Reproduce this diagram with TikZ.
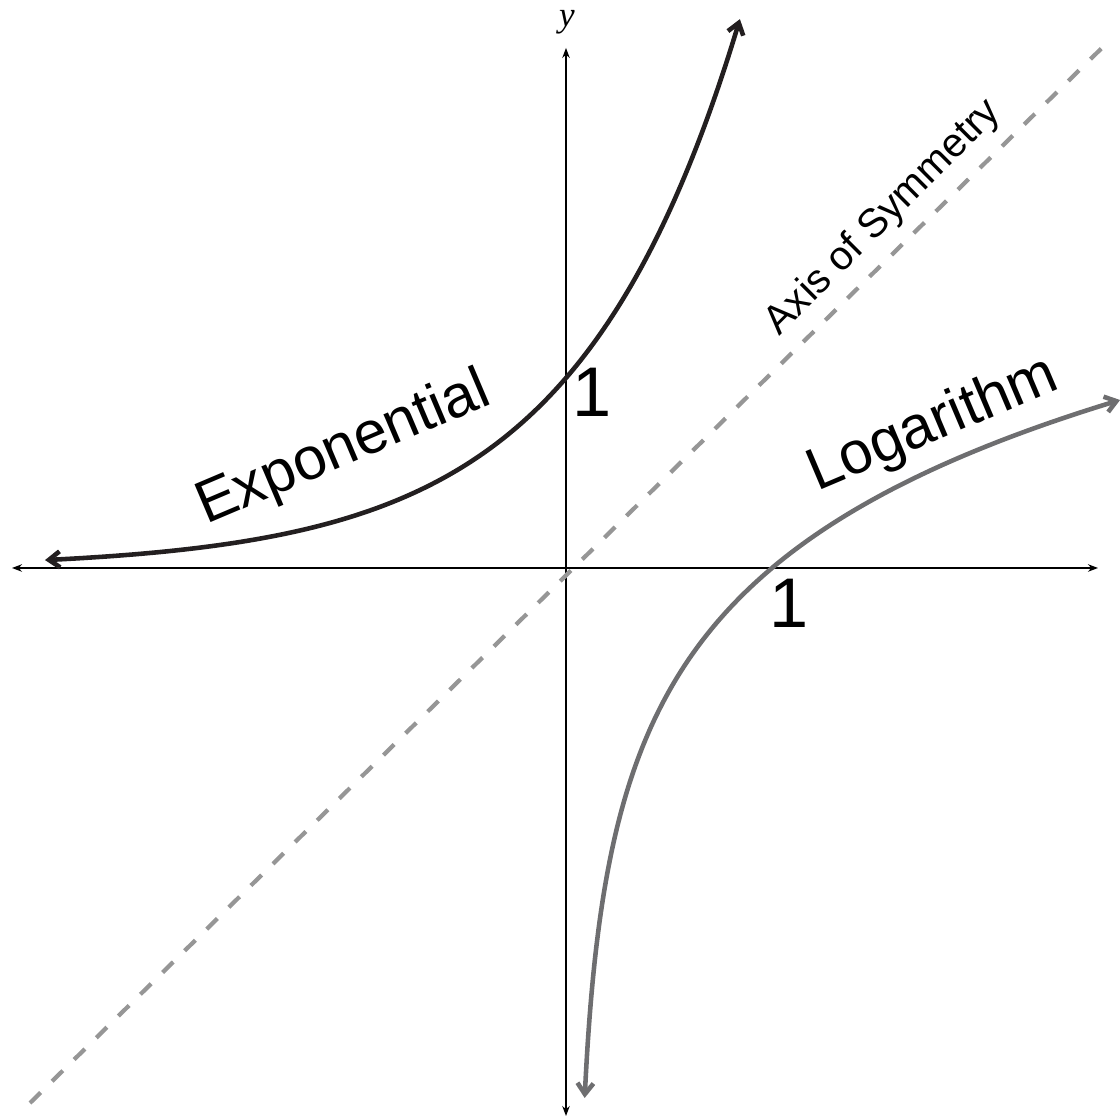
\documentclass[tikz,border=0pt]{standalone}
\usepackage{fontspec}
\setmainfont{Liberation Sans}
\newfontfamily\axisfont{Liberation Serif}
\usetikzlibrary{arrows.meta}
\definecolor{expgray}{RGB}{35,31,32}
\definecolor{loggray}{RGB}{110,110,112}
\definecolor{symgray}{RGB}{150,150,150}
\tikzset{
	axisline/.style={line width=0.35pt, {Stealth[length=1mm,width=0.75mm]}-{Stealth[length=1mm,width=0.75mm]}},
	curve/.style={line width=1.3pt, {Straight Barb[length=1.1mm,width=1.6mm]}-{Straight Barb[length=1.1mm,width=1.6mm]}},
	bigtext/.style={font=\fontsize{17}{19}\selectfont, anchor=base},
}

\begin{document}
\begin{tikzpicture}
	\useasboundingbox (-5.66,-5.50) rectangle (5.54,5.68);
	\draw[axisline] (-5.54,0) -- (5.32,0);
	\draw[axisline] (0,-5.48) -- (0,5.20);
	\node (xlab) [anchor=west] at (5.46,-0.02) {\axisfont\itshape x};
	\node (ylab) at (0.01,5.46) {\axisfont\itshape y};
	
	\draw[symgray, line width=1.2pt, dash pattern=on 1.5mm off 1.6mm] (-5.36,-5.35) -- (5.46,5.30);
	\draw[curve, expgray] plot[domain=-5.21:1.74, samples=120, smooth] (\x,{1.9*exp(0.61*\x)});
	\draw[curve, loggray] plot[domain=-5.30:1.68, samples=120, smooth, variable=\t] ({0.11+1.95*exp(\t/1.64)},\t);
	
	\node (expo) [bigtext, rotate=23] at (-2.16,1.04) {Exponential};
	\node (loga) [bigtext, rotate=23] at (3.735,1.285) {Logarithm};
	\node (sym) [anchor=base, rotate=45, font=\fontsize{11.5}{13}\selectfont] at (3.25,3.43) {Axis of Symmetry};
	\node (oney) [anchor=base, font=\fontsize{20}{22}\selectfont] at (0.26,1.51) {1};
	\node (onex) [anchor=base, font=\fontsize{20}{22}\selectfont] at (2.23,-0.60) {1};
\end{tikzpicture}
\end{document}
